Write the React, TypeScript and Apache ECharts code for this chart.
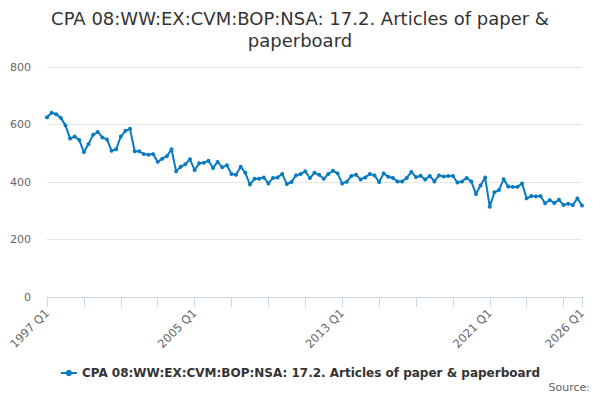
import { useEffect, useRef } from "react";
import * as echarts from "echarts";

const years = Array.from({ length: 30 }, (_, i) => 1997 + i);
const quarters = years.flatMap((y) => ["Q1", "Q2", "Q3", "Q4"].map((q) => `${y} ${q}`)).slice(0, 117);

const values = [
  625, 641, 636, 623,
  597, 551, 558, 546,
  504, 532, 564, 574,
  555, 548, 509, 514,
  558, 578, 585, 507,
  507, 497, 495, 497,
  470, 481, 490, 514,
  437, 453, 462, 479,
  442, 465, 467, 474,
  449, 470, 451, 458,
  428, 425, 453, 432,
  391, 411, 411, 416,
  395, 414, 416, 428,
  393, 400, 423, 428,
  437, 414, 432, 425,
  411, 428, 439, 430,
  395, 401, 421, 425,
  409, 416, 428, 423,
  400, 430, 418, 414,
  402, 402, 414, 435,
  417, 422, 409, 421,
  402, 423, 419, 421,
  421, 398, 402, 414,
  402, 358, 388, 416,
  314, 364, 372, 410,
  384, 383, 383, 395,
  343, 351, 350, 351,
  326, 337, 327, 338,
  320, 324, 320, 343,
  318
];

const seriesName = "CPA 08:WW:EX:CVM:BOP:NSA: 17.2. Articles of paper & paperboard";
const titleText = "CPA 08:WW:EX:CVM:BOP:NSA: 17.2. Articles of paper &\npaperboard";
const font = "DejaVu Sans, Verdana, sans-serif";

export default function App() {
  const chartRef = useRef<HTMLDivElement | null>(null);

  useEffect(() => {
    const container = chartRef.current;
    if (!container) return;
    const chart = echarts.init(container, null, { renderer: "svg" });
    const last = quarters.length - 1;

    chart.setOption({
      animation: false,
      backgroundColor: "#fff",
      textStyle: { fontFamily: font },
      title: {
        text: titleText,
        left: "center",
        top: 2,
        textStyle: { fontFamily: font, fontSize: 18, fontWeight: "normal", color: "#333", lineHeight: 22 }
      },
      grid: { left: 47, right: 18, top: 67, bottom: 103 },
      xAxis: {
        type: "category",
        data: quarters,
        boundaryGap: false,
        axisLine: { lineStyle: { color: "#ccd6eb" } },
        axisTick: {
          length: 10,
          lineStyle: { color: "#ccd6eb" },
          interval: (i: number) => i % 8 === 0 || i === last
        },
        axisLabel: {
          rotate: 45,
          color: "#666",
          fontSize: 11.5,
          fontFamily: font,
          margin: 14,
          interval: (i: number) => i % 32 === 0 || i === last
        },
        splitLine: { show: false }
      },
      yAxis: {
        type: "value",
        min: 0,
        max: 800,
        interval: 200,
        axisLabel: { color: "#666", fontSize: 11, fontFamily: font, margin: 16 },
        axisLine: { show: false },
        axisTick: { show: false },
        splitLine: { lineStyle: { color: "#e6e6e6" } }
      },
      legend: {
        bottom: 16,
        left: "center",
        itemWidth: 16,
        itemHeight: 8,
        textStyle: { fontFamily: font, fontSize: 12, fontWeight: "bold", color: "#333" },
        data: [seriesName]
      },
      graphic: [
        {
          type: "text",
          right: 10,
          top: 382,
          style: { text: "Source:", fontFamily: font, fontSize: 11, fill: "#666" }
        }
      ],
      series: [
        {
          name: seriesName,
          type: "line",
          data: values,
          symbol: "circle",
          symbolSize: 4,
          showAllSymbol: true,
          lineStyle: { color: "#0a7bc1", width: 2 },
          itemStyle: { color: "#0a7bc1" }
        }
      ]
    });

    return () => chart.dispose();
  }, []);

  return <div ref={chartRef} style={{ width: 600, height: 400, margin: -8 }} />;
}
